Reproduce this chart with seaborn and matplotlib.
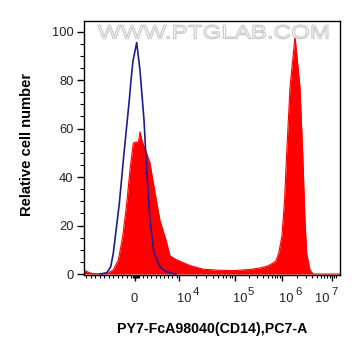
import numpy as np
import pandas as pd
import matplotlib
matplotlib.use("Agg")
import matplotlib.pyplot as plt
import matplotlib.transforms as mtransforms
from matplotlib.textpath import TextPath
from matplotlib.patches import PathPatch
from matplotlib.font_manager import FontProperties
import seaborn as sns

# x is in display channels of the biexponential axis (0 = left edge, 256 = right edge)
red_x = [0, 4, 8, 16, 24, 29.3, 34.3, 38.7, 42.7, 46, 49.3, 52, 54.3, 56, 58, 62.7, 66, 70,
         76, 82, 86, 92.7, 106, 119, 133, 149, 166, 176, 183, 189, 192, 195, 198, 200.5,
         202.7, 206, 211, 216, 218.7, 221, 222.7, 226, 229, 256]
red_y = [1.5, 0.8, 0.2, 0.1, 0.4, 1.7, 5.8, 15.4, 29, 43, 54, 54.5, 54, 58.7, 55, 49.8,
         45.7, 36, 22, 14, 7.5, 5.8, 3.5, 2.0, 1.6, 1.4, 1.9, 2.5, 3.2, 4.5, 5.5, 9, 16, 30,
         50, 77, 98, 77, 50, 22, 8.5, 1.7, 0, 0]

blue_x = [16, 22.7, 26.7, 29.3, 35.3, 40, 45.3, 47, 49, 52.7, 56, 60, 62.7, 66, 70, 76, 81,
          87.7, 92]
blue_y = [0, 0.5, 3, 8.6, 29, 49.8, 71.8, 80, 88, 95.5, 84, 63.5, 43, 22, 8.6, 3, 1.2, 0.3, 0]

major_pos = [51, 95, 151, 198, 248]
major_base = ["0", "10", "10", "10", "10"]
major_exp = ["", "4", "5", "6", "7"]
label_shift = [3, 13, 12, 12, -2]   # right edge of base text relative to tick
decade_span = {95: 56, 151: 47, 198: 50}

red = pd.DataFrame({"x": red_x, "y": red_y})
blue = pd.DataFrame({"x": blue_x, "y": blue_y})

plt.rcParams["font.family"] = ["Liberation Sans", "DejaVu Sans"]

fig = plt.figure(figsize=(3.61, 3.56), dpi=100)
ax = fig.add_axes([84 / 361, 81 / 356, 256 / 361, 254 / 356])

ax.fill_between(red["x"], 0, red["y"], color="#ff0000", lw=0, zorder=2)
sns.lineplot(data=red, x="x", y="y", color="#ff0000", lw=0.8, ax=ax, zorder=2)
sns.lineplot(data=blue, x="x", y="y", color="#1c1c96", lw=1.2, ax=ax, zorder=3)

ax.set_xlim(0, 256)
ax.set_ylim(-0.4, 104.4)

# minor ticks: negative region, region around 0, and log decades
minor = list(np.arange(2, 48, 4.5)) + [49, 50, 52, 53, 54, 55]
minor += list(np.arange(59, 93, 4.2))
for start, span in decade_span.items():
    minor += [start + span * np.log10(k) for k in range(2, 10)]
minor += [248 + 2, 248 + 4]
ax.set_xticks(major_pos)
ax.set_xticklabels([])
ax.set_xticks(minor, minor=True)

# x labels on a shared baseline with large exponents, like the cytometer software
trans = mtransforms.blended_transform_factory(ax.transData, ax.transAxes)
for pos, base, ex, dx in zip(major_pos, major_base, major_exp, label_shift):
    ax.text(pos + dx, -0.106, base, transform=trans, ha="right", va="baseline",
            fontsize=9.3, color="#222222")
    if ex:
        ax.text(pos + dx + 1, -0.078, ex, transform=trans, ha="left", va="baseline",
                fontsize=8.2, color="#222222")

ax.set_yticks([0, 20, 40, 60, 80, 100])
ax.set_yticks(np.arange(0, 105, 5), minor=True)

ax.tick_params(axis="x", which="major", length=4.5, width=1, direction="out")
ax.tick_params(axis="x", which="minor", length=2.2, width=0.8, direction="out")
ax.tick_params(axis="y", which="major", length=5, width=1, labelsize=9.3,
               direction="out", labelcolor="#222222", pad=2.5)
ax.tick_params(axis="y", which="minor", length=3, width=0.8, direction="out")
for s in ax.spines.values():
    s.set_color("black")
    s.set_linewidth(1)

ax.set_xlabel("PY7-FcA98040(CD14),PC7-A", fontsize=10.2, fontweight="bold", labelpad=26)
ax.set_ylabel("Relative cell number", fontsize=10.6, fontweight="bold")
ax.yaxis.set_label_coords((27.5 - 84) / 256, (275 - 144) / 254)
ax.yaxis.label.set_va("center")

# watermark, stretched wide like the original
tp = TextPath((0, 0), "WWW.PTGLAB.COM", size=1, prop=FontProperties(family="Liberation Sans"))
ext = tp.get_extents()
sx = 2.30 / ext.width
sy = 0.136 / ext.height
wm_tr = (mtransforms.Affine2D().translate(-ext.x0, -ext.y0).scale(sx, sy)
         .translate(0.98, 3.173) + fig.dpi_scale_trans)
ax.add_patch(PathPatch(tp, transform=wm_tr, facecolor="white", edgecolor="#cccccc",
                       lw=0.9, zorder=4, clip_on=False))

fig.savefig("out.png", dpi=100)
